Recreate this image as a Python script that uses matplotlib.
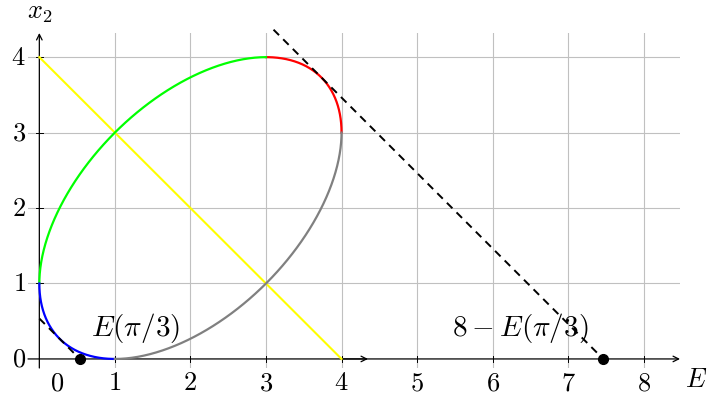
import numpy as np
import matplotlib
matplotlib.use("Agg")
import matplotlib.pyplot as plt

plt.rcParams['mathtext.fontset'] = 'cm'
plt.rcParams['font.family'] = 'DejaVu Serif'

# ellipse x1 = 2 + 2cos(t), x2 = 2 + 2cos(t - pi/3), split in four arcs
center = (2.0, 2.0)
radius = 2.0
shift = np.pi / 3
arcs = [  # (t start, t end, colour)
    (0.0, np.pi / 3, 'red'),
    (np.pi / 3, np.pi, '#00ff00'),
    (np.pi, 4 * np.pi / 3, 'blue'),
    (4 * np.pi / 3, 2 * np.pi, 'gray'),
]
yellow_x = [0, 4]
yellow_y = [4, 0]
E = 4 - 2 * np.sqrt(3)        # E(pi/3)
E_upper = 8 - E               # 8 - E(pi/3)
upper_dash_x = [3.1, E_upper]
lower_dash_x = [0.0, E]

xticks = [1, 2, 3, 4, 5, 6, 7, 8]
yticks = [0, 1, 2, 3, 4]

fig = plt.figure(figsize=(7.09, 4.0), dpi=100)
ax = fig.add_axes([28 / 709, 32 / 400, (680 - 28) / 709, (367 - 32) / 400])
ax.set_xlim(-0.15, 8.48)
ax.set_ylim(-0.12, 4.32)
for s in ax.spines.values():
    s.set_visible(False)
ax.set_xticks([])
ax.set_yticks([])

# grid
for x in xticks:
    ax.plot([x, x], [-0.12, 4.32], color='#c0c0c0', lw=0.8, zorder=0)
for y in yticks[1:]:
    ax.plot([-0.15, 8.48], [y, y], color='#c0c0c0', lw=0.8, zorder=0)

# axes with arrows
arr = dict(arrowstyle='->', color='black', lw=0.9, shrinkA=0, shrinkB=0)
ax.annotate('', xy=(8.48, 0), xytext=(-0.15, 0), arrowprops=arr, zorder=1)
ax.annotate('', xy=(0, 4.32), xytext=(0, -0.12), arrowprops=arr, zorder=1)
ax.annotate('', xy=(4.35, 0), xytext=(4.0, 0), arrowprops=arr, zorder=1)
for x in xticks:
    ax.plot([x, x], [-0.04, 0.04], color='black', lw=0.7, zorder=1)
for y in yticks[1:]:
    ax.plot([-0.05, 0.05], [y, y], color='black', lw=0.7, zorder=1)

# tick labels
fs = 19
for x in xticks:
    ax.text(x, -0.15, '$%d$' % x, ha='center', va='top', fontsize=fs)
ax.text(0.23, -0.15, '$0$', ha='center', va='top', fontsize=fs)
for y in yticks:
    ax.text(-0.18, y, '$%d$' % y, ha='right', va='center', fontsize=fs,
            clip_on=False)
ax.text(0.0, 4.42, '$x_2$', ha='center', va='bottom', fontsize=fs,
        clip_on=False)
ax.text(8.55, -0.27, '$E$', ha='left', va='center', fontsize=fs,
        clip_on=False)

# ellipse arcs
for t0, t1, col in arcs:
    t = np.linspace(t0, t1, 200)
    ax.plot(center[0] + radius * np.cos(t),
            center[1] + radius * np.cos(t - shift),
            color=col, lw=1.6, zorder=3)

ax.plot(yellow_x, yellow_y, color='#ffff00', lw=1.5, zorder=2)

# tangent lines x1 + x2 = const
dash = (0, (4, 3))
ax.plot(upper_dash_x, [E_upper - v for v in upper_dash_x], color='black',
        lw=1.4, ls=dash, zorder=4, clip_on=False)
ax.plot(lower_dash_x, [E - v for v in lower_dash_x], color='black',
        lw=1.4, ls=dash, zorder=4)
ax.plot([E, E_upper], [0, 0], 'o', color='black', ms=7, zorder=5)

ax.text(1.27, 0.41, r'$E(\pi/3)$', ha='center', va='center', fontsize=21)
ax.text(6.36, 0.41, r'$8-E(\pi/3)$', ha='center', va='center', fontsize=21)

fig.savefig('out.png', dpi=100)
